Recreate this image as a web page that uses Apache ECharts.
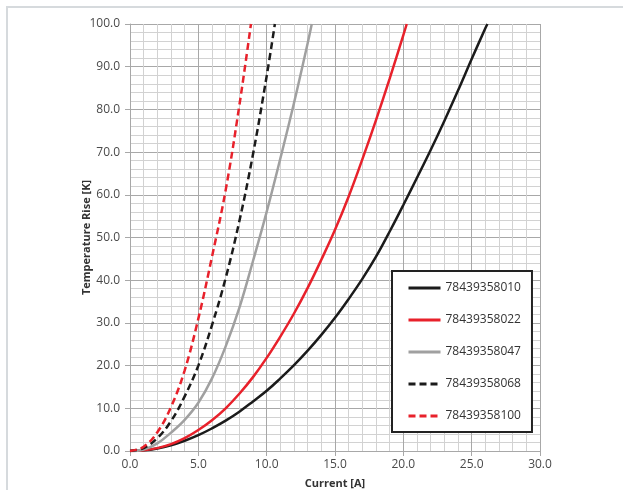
<!DOCTYPE html>
<html>
<head>
<meta charset="utf-8">
<script src="https://cdn.jsdelivr.net/npm/echarts@6/dist/echarts.min.js"></script>
<style>
html,body{margin:0;padding:0;background:#fff;}
#chart{width:623px;height:490px;}
</style>
</head>
<body>
<div id="chart"></div>
<script>
// Series names
const seriesNames = ['78439358010','78439358022','78439358047','78439358068','78439358100'];
// Currents [A] and temperature rises [K]
const current010 = [0,1,2,3,4,5,6,7,8,9,10,11,12,13,14,15,16,17,18,19,20,21,22,23,24,25,26,26.15];
const temp010    = [0,0.15,0.6,1.35,2.4,3.7,5.3,7.1,9.2,11.6,14.1,17.0,20.1,23.5,27.2,31.2,35.6,40.3,45.5,51.4,57.6,64.0,70.5,77.3,84.4,91.8,99.0,100];
const current022 = [0,1,2,3,4,5,6,7,8,9,10,11,12,13,14,15,16,17,18,19,20,20.25];
const temp022    = [0,0.15,0.68,1.6,3.0,4.9,7.2,10.0,13.4,17.3,21.8,26.8,32.2,38.2,44.8,51.8,59.6,68.3,77.5,87.2,97.4,100];
const current047 = [0,1,2,3,4,5,6,7,8,9,10,11,12,13,13.3];
const temp047    = [0,0.35,1.8,4.3,7.3,11.3,17.0,24.5,33.5,44.5,56.0,68.5,81.5,95.5,100];
const current068 = [0,1,2,3,4,5,6,7,8,9,10,10.6];
const temp068    = [0,0.7,3.0,7.0,12.8,20.0,29.5,40.5,53.8,69.5,87.8,100];
const current100 = [0,1,2,3,4,5,6,7,8,8.85];
const temp100    = [0,1.0,4.4,10.3,18.9,31.0,45.5,61.1,80.9,100];
// Axis settings
const xMin = 0, xMax = 30, xStep = 5;
const yMin = 0, yMax = 100, yStep = 10;
const xTitle = 'Current [A]';
const yTitle = 'Temperature Rise [K]';

const pairs = (xs, ys) => xs.map((x, i) => [x, ys[i]]);
const FONT = '"Open Sans", sans-serif';

const styles = [
  {color:'#1b1b1b', type:'solid'},
  {color:'#e8212b', type:'solid'},
  {color:'#a0a0a0', type:'solid'},
  {color:'#1b1b1b', type:[7,4]},
  {color:'#e8212b', type:[7,4]}
];
const dataSets = [
  pairs(current010, temp010),
  pairs(current022, temp022),
  pairs(current047, temp047),
  pairs(current068, temp068),
  pairs(current100, temp100)
];

const chart = echarts.init(document.getElementById('chart'), null, {renderer:'canvas'});
const axisCommon = {
  axisLine:{show:true, lineStyle:{color:'#a8a8a8', width:1}},
  axisTick:{show:true, length:5, lineStyle:{color:'#a8a8a8'}},
  splitLine:{show:true, lineStyle:{color:'#a8a8a8', width:1}},
  minorTick:{show:false, splitNumber:5},
  minorSplitLine:{show:true, lineStyle:{color:'#d2d2d2', width:1}},
  axisLabel:{color:'#4a4a4a', fontSize:12, fontFamily:FONT, formatter:v => v.toFixed(1)},
  nameLocation:'middle',
  nameMoveOverlap:false,
  nameTextStyle:{color:'#333', fontSize:11, fontWeight:'bold', fontFamily:FONT}
};
chart.setOption({
  animation:false,
  backgroundColor:'#fff',
  graphic:[{type:'rect', shape:{x:7, y:7, width:700, height:600}, style:{fill:'none', stroke:'#d6dadd', lineWidth:2}, z:-10}],
  grid:{left:130, top:24, right:83, bottom:39, containLabel:false, outerBoundsMode:'none'},
  xAxis:Object.assign({}, axisCommon, {
    type:'value', min:xMin, max:xMax, interval:xStep,
    name:xTitle, nameGap:27,
    axisLabel:Object.assign({}, axisCommon.axisLabel, {margin:8})
  }),
  yAxis:Object.assign({}, axisCommon, {
    type:'value', min:yMin, max:yMax, interval:yStep,
    name:yTitle, nameGap:38, nameRotate:90,
    axisLabel:Object.assign({}, axisCommon.axisLabel, {margin:10})
  }),
  legend:{
    orient:'vertical', left:392, top:271,
    padding:[11,11,10,15], itemGap:20, itemWidth:32, itemHeight:14,
    backgroundColor:'#fff', borderColor:'#222', borderWidth:2, borderRadius:0,
    itemStyle:{opacity:0},
    lineStyle:{width:3},
    textStyle:{color:'#333', fontSize:12, fontFamily:FONT},
    data:seriesNames
  },
  series:seriesNames.map((n, i) => ({
    name:n, type:'line', data:dataSets[i], smooth:0.4, symbol:'none',
    lineStyle:{color:styles[i].color, width:2.5, type:styles[i].type},
    itemStyle:{color:styles[i].color},
    z:3
  }))
});
</script>
</body>
</html>
